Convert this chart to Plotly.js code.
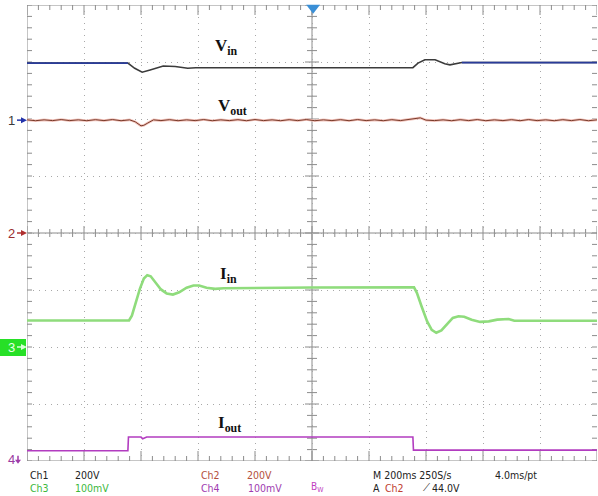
<!DOCTYPE html>
<html>
<head>
<meta charset="utf-8">
<script src="https://cdn.plot.ly/plotly-3.0.1.min.js"></script>
<style>html,body{margin:0;padding:0;background:#fff;}#chart{width:598px;height:496px;}</style>
</head>
<body>
<div id="chart"></div>
<script>
// ---- Data (time in divisions 0..10, 200 ms/div; amplitude in divisions) ----
const vinT = [0, 1.77, 1.89, 2.02, 2.16, 2.39, 2.60, 2.82, 2.96, 6.77, 6.86, 6.98, 7.16, 7.33, 7.42, 7.63, 10];
const vinV = [2.98, 2.98, 2.89, 2.82, 2.86, 2.93, 2.92, 2.89, 2.90, 2.90, 2.98, 3.04, 3.04, 2.97, 2.95, 2.99, 2.99];

const voutT = [0,0.15,0.3,0.45,0.6,0.75,0.9,1.05,1.2,1.35,1.5,1.65,1.8,1.9,2.0,2.05,2.12,2.22,2.35,2.5,2.65,2.8,2.95,3.1,3.25,3.4,3.55,3.7,3.85,4.0,4.15,4.3,4.45,4.6,4.75,4.9,5.05,5.2,5.35,5.5,5.65,5.8,5.95,6.1,6.25,6.4,6.55,6.7,6.8,6.9,7.0,7.15,7.3,7.45,7.6,7.75,7.9,8.05,8.2,8.35,8.5,8.65,8.8,8.95,9.1,9.25,9.4,9.55,9.7,9.85,10];
const voutV = [1.985,1.97,1.985,1.972,1.99,1.972,1.985,1.97,1.988,1.972,1.99,1.97,1.985,1.95,1.88,1.89,1.93,1.985,1.972,1.988,1.97,1.985,1.972,1.99,1.97,1.985,1.972,1.988,1.97,1.99,1.972,1.985,1.97,1.988,1.972,1.99,1.97,1.985,1.972,1.988,1.97,1.99,1.972,1.985,1.97,1.988,1.972,1.99,2.01,2.02,1.98,1.972,1.985,1.97,1.988,1.972,1.99,1.97,1.985,1.972,1.988,1.97,1.99,1.972,1.985,1.97,1.988,1.972,1.99,1.97,1.985];

const iinT = [0, 1.79, 1.84, 1.90, 1.98, 2.05, 2.11, 2.17, 2.25, 2.35, 2.45, 2.56, 2.67, 2.80, 2.92, 3.02, 3.15, 3.30, 3.45, 3.80, 4.30, 5.00, 6.79, 6.84, 6.92, 7.02, 7.10, 7.18, 7.27, 7.37, 7.47, 7.57, 7.67, 7.80, 7.95, 8.10, 8.25, 8.45, 8.55, 10];
const iinV = [-1.535, -1.535, -1.45, -1.25, -0.98, -0.80, -0.74, -0.76, -0.86, -0.99, -1.06, -1.08, -1.04, -0.96, -0.92, -0.92, -0.96, -0.98, -0.97, -0.965, -0.96, -0.955, -0.953, -1.05, -1.28, -1.55, -1.70, -1.75, -1.71, -1.60, -1.49, -1.46, -1.47, -1.52, -1.56, -1.55, -1.52, -1.51, -1.54, -1.54];

const ioutT = [0, 1.77, 1.78, 2.0, 2.03, 2.1, 4.0, 6.77, 6.78, 10];
const ioutV = [-3.82, -3.82, -3.58, -3.58, -3.61, -3.58, -3.58, -3.58, -3.81, -3.81];

const chMarkers = ["1", "2", "3", "4"];
const chLevels = [1.98, 0, -2, -3.98];

const traceLabels = ["V<sub>in</sub>", "V<sub>out</sub>", "I<sub>in</sub>", "I<sub>out</sub>"];
const labelX = [3.5, 3.61, 3.53, 3.56];
const labelY = [3.26, 2.21, -0.74, -3.35];

const triggerPos = [5.02, 3.95];

// ---- helpers ----
const ML = 27, MT = 5, PW = 570, PH = 456;
const px = 1 / 57; // one pixel in division units
const pxX = p => (p - ML) / PW;            // page px -> paper x
const pxY = p => (MT + PH - p) / PH;       // page px -> paper y
const dY = v => (4 + v) / 8;               // division value -> paper y

// Vin: blue in steady parts, dark during transients
const vinBlueA = {t: [], v: []}, vinBlueB = {t: [], v: []};
vinT.forEach((t, i) => {
  if (t <= 1.77) { vinBlueA.t.push(t); vinBlueA.v.push(vinV[i]); }
  if (t >= 7.63) { vinBlueB.t.push(t); vinBlueB.v.push(vinV[i]); }
});

const traces = [
  {x: vinT, y: vinV, mode: 'lines', line: {color: '#3b3b3b', width: 1.6}, hoverinfo: 'skip'},
  {x: vinBlueA.t, y: vinBlueA.v, mode: 'lines', line: {color: '#2a3c9a', width: 1.8}, hoverinfo: 'skip'},
  {x: vinBlueB.t, y: vinBlueB.v, mode: 'lines', line: {color: '#2a3c9a', width: 1.8}, hoverinfo: 'skip'},
  {x: voutT, y: voutV, mode: 'lines', line: {color: '#f2c4bc', width: 2.6}, hoverinfo: 'skip'},
  {x: voutT, y: voutV, mode: 'lines', line: {color: '#7a3a2a', width: 1}, hoverinfo: 'skip'},
  {x: iinT, y: iinV, mode: 'lines', line: {color: '#8fdc7c', width: 2.6}, hoverinfo: 'skip'},
  {x: ioutT, y: ioutV, mode: 'lines', line: {color: '#b23cc0', width: 1.6}, hoverinfo: 'skip'},
  {x: [triggerPos[0]], y: [triggerPos[1]], mode: 'markers', cliponaxis: false,
   marker: {symbol: 'triangle-down', size: 12, color: '#3a8fd6'}, hoverinfo: 'skip'}
];

// ---- graticule shapes ----
const shapes = [];
const gc = '#8c8c8c';
function seg(x0, y0, x1, y1, w) {
  shapes.push({type: 'line', xref: 'x', yref: 'y', x0, y0, x1, y1, line: {color: gc, width: w || 1}, layer: 'below'});
}
// frame
seg(0, -4, 0, 4); seg(0, 4, 10, 4); seg(0, -4, 10, -4);
// centre cross
seg(5, -4, 5, 4); seg(0, 0, 10, 0);
// x ticks (top, bottom, centre)
for (let i = 0; i <= 50; i++) {
  const x = i * 0.2, major = (i % 5 === 0);
  const L = major ? 10 * px : 5 * px;
  seg(x, 4, x, 4 - L);
  seg(x, -4, x, -4 + L);
  const c = major ? 7 * px : 4 * px;
  seg(x, -c, x, c);
}
// y ticks (left, right, centre)
for (let j = 0; j <= 40; j++) {
  const y = -4 + j * 0.2, major = (j % 5 === 0);
  seg(0, y, 5 * px, y);
  seg(10, y, 10 - 5 * px, y);
  const c = major ? 7 * px : 5 * px;
  seg(5 - c, y, 5 + c, y);
}
// channel 3 green marker box
shapes.push({type: 'rect', xref: 'paper', yref: 'paper', x0: pxX(0), x1: pxX(26), y0: pxY(356), y1: pxY(339),
  fillcolor: '#27e027', line: {width: 0}});

// channel ground-level arrows (paper coordinates built from page pixels)
const aColors = ['#2233aa', '#b03030', '#d8ffd8', '#a03aa8'];
function pathPx(pts) {
  return pts.map((p, k) => (k ? 'L' : 'M') + pxX(p[0]).toFixed(5) + ',' + pxY(p[1]).toFixed(5)).join(' ') + ' Z';
}
chLevels.forEach((lv, i) => {
  const yp = MT + PH - dY(lv) * PH; // page pixel row of the level
  if (i < 3) {
    shapes.push({type: 'line', xref: 'paper', yref: 'paper', x0: pxX(17), x1: pxX(23), y0: pxY(yp), y1: pxY(yp),
      line: {color: aColors[i], width: 1.5}});
    shapes.push({type: 'path', xref: 'paper', yref: 'paper', path: pathPx([[21, yp - 3], [27, yp], [21, yp + 3]]),
      fillcolor: aColors[i], line: {width: 0}});
  } else {
    shapes.push({type: 'line', xref: 'paper', yref: 'paper', x0: pxX(18), x1: pxX(18), y0: pxY(yp - 4), y1: pxY(yp + 1),
      line: {color: aColors[i], width: 1.5}});
    shapes.push({type: 'path', xref: 'paper', yref: 'paper', path: pathPx([[15, yp], [21, yp], [18, yp + 4]]),
      fillcolor: aColors[i], line: {width: 0}});
  }
});

// ---- annotations ----
const ann = [];
const labelFont = {family: 'Liberation Serif, Times New Roman, serif', size: 17, color: '#111'};
traceLabels.forEach((t, i) => ann.push({x: labelX[i], y: labelY[i], xref: 'x', yref: 'y', text: '<b>' + t + '</b>',
  showarrow: false, font: labelFont}));

const mColors = ['#3a3a3a', '#9a2e2e', '#e8ffe8', '#9a3aa0'];
chMarkers.forEach((m, i) => {
  ann.push({x: pxX(11), y: chLevels[i], xref: 'paper', yref: 'y', text: m, showarrow: false,
    xanchor: 'center', yanchor: 'middle',
    font: {family: 'Liberation Sans, Arial, sans-serif', size: 13, color: mColors[i]}});
});

const tf = 'Liberation Sans Narrow, DejaVu Sans Condensed, Liberation Sans, Arial, sans-serif';
function txt(s, x, y, color, size) {
  ann.push({x: pxX(x), y: pxY(y), xref: 'paper', yref: 'paper', text: s, showarrow: false,
    xanchor: 'left', yanchor: 'middle', font: {family: tf, size: size || 10.5, color}});
}
const r1 = 475, r2 = 488;
txt('Ch1', 28, r1, '#222');
txt('200V', 73, r1, '#222');
txt('Ch3', 28, r2, '#3cb83c');
txt('100mV', 73, r2, '#3cb83c');
txt('Ch2', 199, r1, '#b4503c');
txt('200V', 245, r1, '#b4503c');
txt('Ch4', 199, r2, '#a03cb0');
txt('100mV', 246, r2, '#a03cb0');
txt('B<sub>W</sub>', 309, r2, '#c040c0', 10);
txt('M 200ms 250S/s', 371, r1, '#222');
txt('4.0ms/pt', 493, r1, '#222');
txt('A', 371, r2, '#222');
txt('Ch2', 383, r2, '#c04030');
txt('⟋', 421, r2, '#222', 10);
txt('44.0V', 430, r2, '#222');

const layout = {
  width: 598, height: 496,
  margin: {l: ML, r: 1, t: MT, b: 35, pad: 0},
  paper_bgcolor: '#ffffff', plot_bgcolor: '#ffffff',
  showlegend: false,
  xaxis: {range: [0, 10], dtick: 1, showgrid: true, gridcolor: '#a8a8a8', griddash: '1px,5px', gridwidth: 1,
    zeroline: false, showline: false, showticklabels: false, ticks: '', fixedrange: true},
  yaxis: {range: [-4, 4], dtick: 1, showgrid: true, gridcolor: '#a8a8a8', griddash: '1px,5px', gridwidth: 1,
    zeroline: false, showline: false, showticklabels: false, ticks: '', fixedrange: true},
  shapes: shapes,
  annotations: ann
};

Plotly.newPlot('chart', traces, layout, {displayModeBar: false, staticPlot: true});
</script>
</body>
</html>
